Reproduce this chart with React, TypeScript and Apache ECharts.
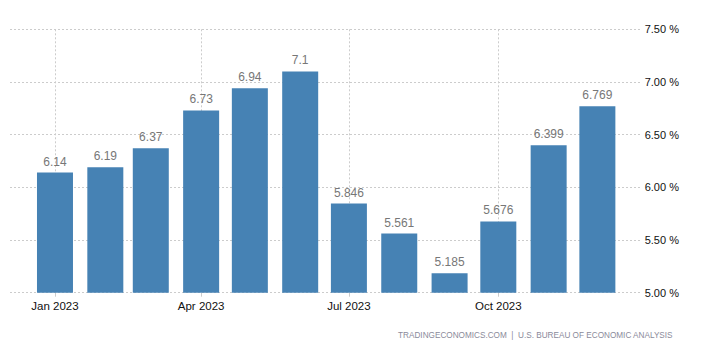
import React, { useEffect, useRef } from "react";
import * as echarts from "echarts";

const months = [
  "2023-01-01", "2023-02-01", "2023-03-01", "2023-04-01", "2023-05-01", "2023-06-01",
  "2023-07-01", "2023-08-01", "2023-09-01", "2023-10-01", "2023-11-01", "2023-12-01",
];
const values = [6.14, 6.19, 6.37, 6.73, 6.94, 7.1, 5.846, 5.561, 5.185, 5.676, 6.399, 6.769];
const labelText = ["6.14", "6.19", "6.37", "6.73", "6.94", "7.1", "5.846", "5.561", "5.185", "5.676", "6.399", "6.769"];
const tickDates = ["2023-01-01", "2023-04-01", "2023-07-01", "2023-10-01"];
const monthNames = ["Jan", "Feb", "Mar", "Apr", "May", "Jun", "Jul", "Aug", "Sep", "Oct", "Nov", "Dec"];
const sourceText = "TRADINGECONOMICS.COM  |  U.S. BUREAU OF ECONOMIC ANALYSIS";

const toTime = (s: string) => {
  const [y, m, d] = s.split("-").map(Number);
  return new Date(y, m - 1, d).getTime();
};
const DAY = 86400000;

export default function App() {
  const ref = useRef<HTMLDivElement>(null);
  useEffect(() => {
    if (!ref.current) return;
    const chart = echarts.init(ref.current, undefined, { renderer: "svg" });
    const jan1 = toTime(months[0]);
    const tickVals = tickDates.map(toTime);
    const font = "'Liberation Sans', Arial, sans-serif";
    chart.setOption({
      animation: false,
      grid: { left: 10, right: 60.3, top: 29.3, bottom: 70.3, containLabel: false },
      xAxis: {
        type: "value",
        min: jan1 - 27.7 * DAY,
        max: jan1 + 361.3 * DAY,
        axisLine: { show: false },
        axisTick: {
          show: true,
          length: 4,
          lineStyle: { color: "#cccccc" },
          customValues: tickVals,
        },
        axisLabel: {
          customValues: tickVals,
          margin: 7,
          fontSize: 11.5,
          fontFamily: font,
          color: "#111111",
          formatter: (v: number) => {
            const d = new Date(v);
            return monthNames[d.getMonth()] + " " + d.getFullYear();
          },
        },
        splitLine: {
          show: true,
          customValues: tickVals,
          lineStyle: { color: "#cccccc", type: [2, 2], width: 1 },
        },
      },
      yAxis: {
        type: "value",
        position: "right",
        min: 5,
        max: 7.5,
        interval: 0.5,
        axisLine: { show: false },
        axisTick: { show: false },
        axisLabel: {
          margin: 3,
          fontSize: 11,
          fontFamily: font,
          color: "#111111",
          formatter: (v: number) => v.toFixed(2) + " %",
        },
        splitLine: { show: true, lineStyle: { color: "#cccccc", type: [2, 2], width: 1 } },
      },
      series: [
        {
          type: "bar",
          barWidth: 36,
          z: 3,
          itemStyle: { color: "#4682b4" },
          data: months.map((m, i) => [toTime(m), values[i]]),
          label: {
            show: true,
            position: "top",
            distance: 5,
            fontSize: 12,
            fontFamily: font,
            color: "#777777",
            formatter: (p: any) => labelText[p.dataIndex],
          },
        },
      ],
      graphic: [
        {
          type: "text",
          right: 29,
          top: 331,
          style: {
            text: sourceText,
            fontSize: 8.2,
            fontFamily: font,
            fill: "#8a8a9a",
          },
        },
      ],
    });
    return () => chart.dispose();
  }, []);
  return (
    <div
      ref={ref}
      style={{ position: "absolute", left: 0, top: 0, width: 702, height: 363 }}
    />
  );
}
